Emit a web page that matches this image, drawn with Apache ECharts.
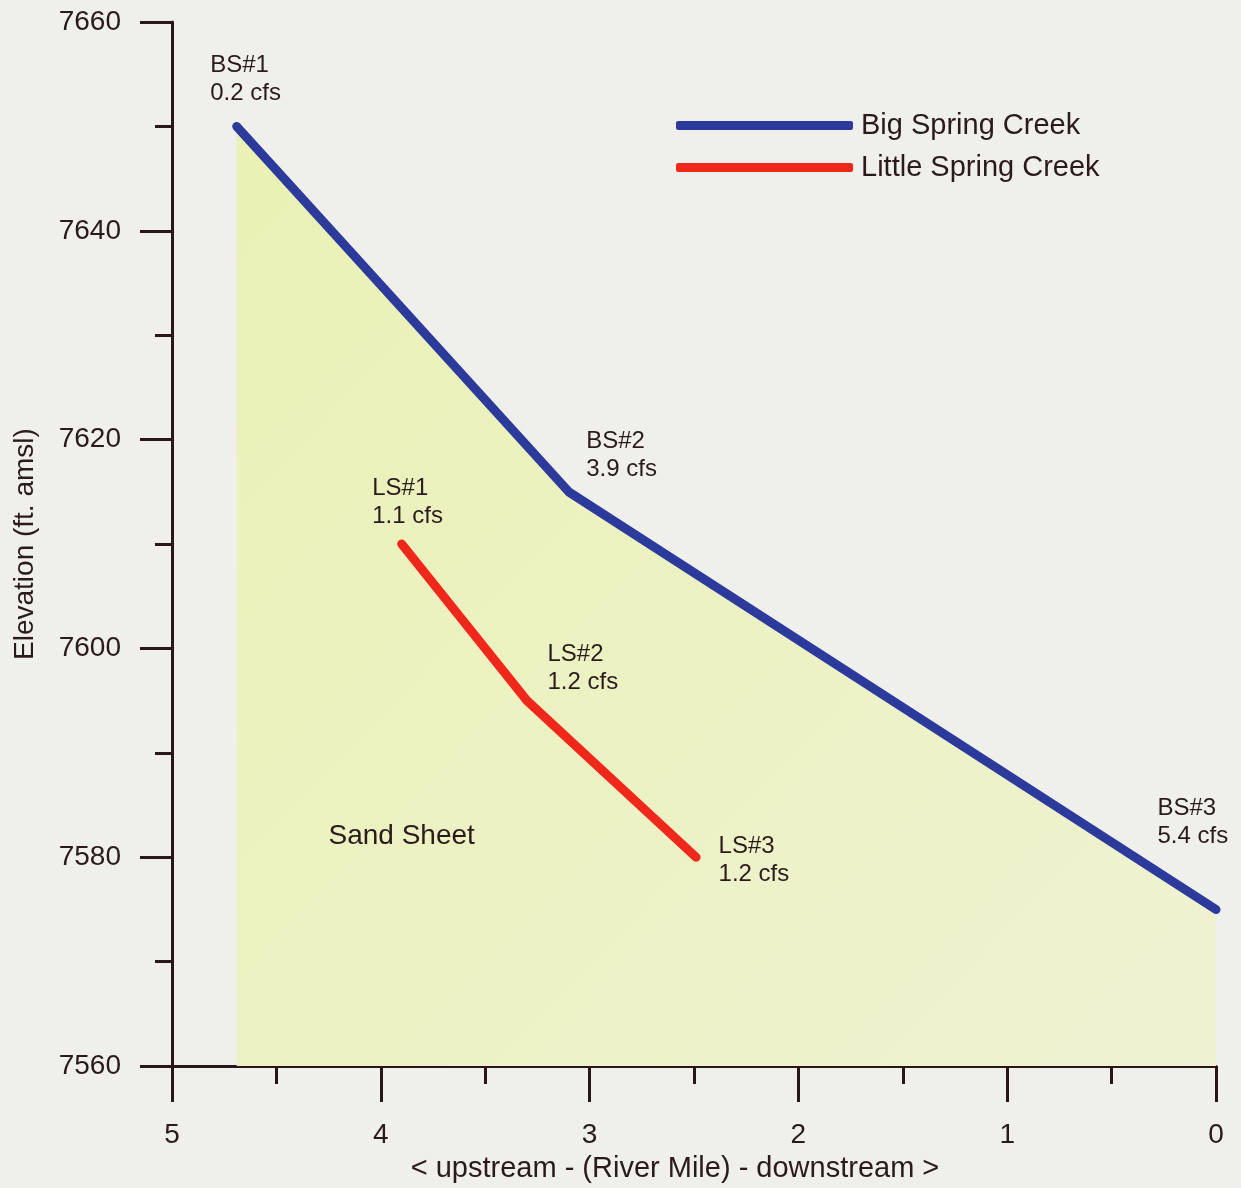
<!DOCTYPE html>
<html>
<head>
<meta charset="utf-8">
<script src="https://cdn.jsdelivr.net/npm/echarts@6/dist/echarts.min.js"></script>
<style>
html,body{margin:0;padding:0;background:#eff0ec;}
#c{width:1241px;height:1188px;}
</style>
</head>
<body>
<div id="c"></div>
<script>
// Data
const bigMiles = [4.69, 3.10, 0.0];
const bigElev = [7650, 7615, 7575];
const bigNames = ['BS#1', 'BS#2', 'BS#3'];
const bigFlows = ['0.2 cfs', '3.9 cfs', '5.4 cfs'];

const littleMiles = [3.90, 3.30, 2.49];
const littleElev = [7610, 7595, 7580];
const littleNames = ['LS#1', 'LS#2', 'LS#3'];
const littleFlows = ['1.1 cfs', '1.2 cfs', '1.2 cfs'];

const yTicks = [7560, 7580, 7600, 7620, 7640, 7660];
const xTicks = [5, 4, 3, 2, 1, 0];

const sandSheet = { text: 'Sand Sheet', mile: 3.90, elev: 7582 };

// Label offsets (style)
const bigOffsets = [[-26, -75], [18, -64], [-58, -115]];
const littleOffsets = [[-29, -69], [21, -60], [23, -24]];

const textColor = '#2b1a1c';
const axisColor = '#2a1518';
const font = 'Liberation Sans, Arial, sans-serif';

function buildData(miles, elev, names, flows, offsets) {
  return miles.map((m, i) => ({
    value: [m, elev[i]],
    label: {
      show: true,
      position: offsets[i],
      formatter: names[i] + '\n' + flows[i],
      color: textColor,
      fontSize: 24,
      lineHeight: 28,
      fontFamily: font,
      align: 'left',
      verticalAlign: 'top'
    }
  }));
}

const chart = echarts.init(document.getElementById('c'), null, { renderer: 'canvas' });
chart.setOption({
  backgroundColor: '#eff0ec',
  animation: false,
  grid: { left: 172, right: 25, top: 22, bottom: 120, containLabel: false },
  legend: {
    orient: 'vertical',
    left: 671,
    top: 106,
    icon: 'roundRect',
    itemWidth: 177,
    itemHeight: 9,
    itemGap: 13,
    textStyle: { color: textColor, fontSize: 29, fontFamily: font, padding: [0, 0, 0, 3] },
    data: ['Big Spring Creek', 'Little Spring Creek']
  },
  xAxis: {
    type: 'value',
    inverse: true,
    min: 0, max: 5, interval: 1,
    name: '< upstream - (River Mile) - downstream >',
    nameLocation: 'middle',
    nameGap: 85,
    nameTextStyle: { color: textColor, fontSize: 29, fontFamily: font, padding: [0, 38, 0, 0] },
    axisLine: { onZero: false, lineStyle: { color: axisColor, width: 3 } },
    axisTick: { show: true, length: 36, lineStyle: { color: axisColor, width: 3 } },
    minorTick: { show: true, splitNumber: 2, length: 18, lineStyle: { color: axisColor, width: 3 } },
    axisLabel: {
      color: textColor, fontSize: 28, fontFamily: font, margin: 55,
      formatter: v => xTicks.includes(v) ? String(v) : ''
    },
    splitLine: { show: false },
    minorSplitLine: { show: false }
  },
  yAxis: {
    type: 'value',
    min: 7560, max: 7660, interval: 20,
    name: 'Elevation (ft. amsl)',
    nameLocation: 'middle',
    nameGap: 133,
    nameRotate: 90,
    nameTextStyle: { color: textColor, fontSize: 28, fontFamily: font },
    axisLine: { show: true, onZero: false, lineStyle: { color: axisColor, width: 3 } },
    axisTick: { show: true, length: 32, lineStyle: { color: axisColor, width: 3 } },
    minorTick: { show: true, splitNumber: 2, length: 17, lineStyle: { color: axisColor, width: 3 } },
    axisLabel: {
      color: textColor, fontSize: 28, fontFamily: font, margin: 51,
      formatter: v => yTicks.includes(v) ? String(v) : ''
    },
    splitLine: { show: false },
    minorSplitLine: { show: false }
  },
  series: [
    {
      name: 'Big Spring Creek',
      type: 'line',
      data: buildData(bigMiles, bigElev, bigNames, bigFlows, bigOffsets),
      symbol: 'circle',
      symbolSize: 1,
      itemStyle: { color: '#2c3a9c' },
      lineStyle: { color: '#2c3a9c', width: 9, cap: 'round', join: 'round' },
      areaStyle: {
        color: new echarts.graphic.LinearGradient(0, 0, 1, 1, [
          { offset: 0, color: '#eaf1b4' },
          { offset: 1, color: '#eff2d2' }
        ]),
        opacity: 1
      },
      z: 3
    },
    {
      name: 'Little Spring Creek',
      type: 'line',
      data: buildData(littleMiles, littleElev, littleNames, littleFlows, littleOffsets),
      symbol: 'circle',
      symbolSize: 1,
      itemStyle: { color: '#f0281c' },
      lineStyle: { color: '#f0281c', width: 9, cap: 'round', join: 'round' },
      markPoint: {
        symbol: 'circle',
        symbolSize: 0,
        data: [{
          coord: [sandSheet.mile, sandSheet.elev],
          label: {
            show: true,
            formatter: sandSheet.text,
            position: 'inside',
            color: textColor,
            fontSize: 28,
            fontFamily: font
          }
        }]
      },
      z: 4
    }
  ]
});
</script>
</body>
</html>
